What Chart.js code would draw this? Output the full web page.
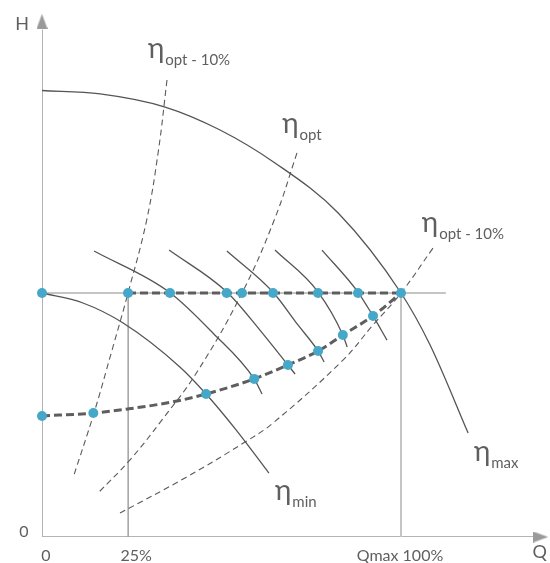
<!DOCTYPE html>
<html lang="en">
<head>
<meta charset="UTF-8">
<title>Pump curves</title>
<script src="https://cdn.jsdelivr.net/npm/chart.js"></script>
<style>
  body { margin: 0; background: #fff; }
  .chart-box { width: 550px; height: 563px; position: relative; }
</style>
</head>
<body>
<div class="chart-box"><canvas id="pumpChart"></canvas></div>
<script>
// Q in % of Qmax, H in % of the head at the working point
const etaMax  = [[0,183],[16.2,181.6],[34.3,176.2],[49.6,166.8],[64.9,153.3],[82.5,132.8],[100,100],[108.1,78.7],[118.7,42.6]];
const etaMin  = [[0,100],[11.4,95.9],[22.6,87.7],[38.4,69.7],[45.7,58.6],[54,44],[63.2,26.2]];
const speed1  = [[14.5,117.2],[35.4,100.4],[47.6,83.6],[59.1,64.8],[61.3,58.6]];
const speed2  = [[35.4,117.6],[51.5,100.4],[60.7,84.8],[68.5,70.5],[70.5,66.8]];
const speed3  = [[51.5,117.2],[64.3,100.4],[71.3,86.9],[76.9,76.2],[78.6,71.7]];
const speed4  = [[64.9,117.6],[76.9,100.4],[83.8,82.8],[85,77.9]];
const speed5  = [[78,117.6],[88,100.4],[92.2,90.6],[96.1,80.7]];

const optMinusLeft  = [[34.82,187.3],[32.45,158.6],[29.16,129.9],[23.96,100],[19.28,75.4],[14.48,50.8],[8.64,24.2]];
const optLine       = [[71.03,157.4],[64.9,130.7],[55.71,100],[43.18,67.6],[33.43,48],[24.51,31.6],[15.6,18]];
const optMinusRight = [[108.9,118.4],[100,100],[92.2,86.9],[83.84,72.5],[64.35,46.7],[56.55,38.9],[39.83,24.2],[21.73,9.8]];

const constHead  = [[23.96,100],[100,100]];
const lowerCurve = [[0,49.6],[14.3,50.8],[24,52.5],[36.5,55.4],[45.7,58.6],[59.1,64.8],[68.5,70.5],[76.9,76.2],[83.8,82.8],[92.2,90.6],[100,100]];

const markPoints = [[0,100],[23.96,100],[35.65,100],[51.45,100],[55.71,100],[64.35,100],[76.88,100],[88.02,100],[100,100],
                    [0,49.6],[14.3,50.8],[45.7,58.6],[59.1,64.8],[68.5,70.5],[76.9,76.2],[83.8,82.8],[92.2,90.6]];

const xTicks = [0, 24, 100];
const xTickLabels = ['0', '25%', 'Qmax 100%'];

const pts = arr => arr.map(([x, y]) => ({x, y}));

function arrowHead() {
    const c = document.createElement('canvas');
    c.width = 11; c.height = 15;
    const g = c.getContext('2d');
    g.fillStyle = '#9a9a9a';
    g.beginPath();
    g.moveTo(5.5, 0); g.lineTo(11, 15); g.lineTo(0, 15);
    g.closePath(); g.fill();
    return c;
}
const arrow = arrowHead();

const FONT = "Lato, 'Open Sans', sans-serif";
const TEXT = '#5f5f5f';

function solid(data) {
    return { data: pts(data), showLine: true, borderColor: '#555', borderWidth: 1.3, pointRadius: 0,
             cubicInterpolationMode: 'monotone', fill: false };
}
function thinDash(data) {
    return { data: pts(data), showLine: true, borderColor: '#5a5a5a', borderWidth: 1.1, borderDash: [6, 4], pointRadius: 0, tension: 0.4 };
}
function guide(data, color, width) {
    return { data: pts(data), showLine: true, borderColor: color, borderWidth: width, pointRadius: 0, tension: 0 };
}

const labelsPlugin = {
    id: 'curveLabels',
    afterDatasetsDraw(chart) {
        const { ctx, scales: { x, y } } = chart;
        ctx.save();
        ctx.fillStyle = TEXT;

        // eta labels: anchor = left edge / baseline of the eta glyph
        const etas = [
            { q: 29.5,  h: 196.3, sub: 'opt - 10%' },
            { q: 66.9,  h: 165.6, sub: 'opt' },
            { q: 105.8, h: 125,   sub: 'opt - 10%' },
            { q: 120.3, h: 31.1,  sub: 'max' },
            { q: 64.9,  h: 15.2,  sub: 'min' }
        ];
        ctx.textBaseline = 'alphabetic';
        ctx.textAlign = 'left';
        etas.forEach(l => {
            const px = x.getPixelForValue(l.q), py = y.getPixelForValue(l.h);
            ctx.font = `28px ${FONT}`;
            ctx.fillText('η', px, py);
            const w = ctx.measureText('η').width;
            ctx.font = `15px ${FONT}`;
            ctx.fillText(l.sub, px + w + 1, py + 7);
        });

        // axis texts
        const x0 = x.getPixelForValue(0), y0 = y.getPixelForValue(0);
        ctx.textAlign = 'center';
        ctx.textBaseline = 'middle';
        ctx.font = `18px ${FONT}`;
        ctx.fillText('H', x0 - 20, y.top + 9);
        ctx.fillText('Q', x.right - 5, y0 + 15);
        ctx.font = `16px ${FONT}`;
        ctx.fillText('0', x0 - 18, y0 - 5);
        const shift = [4, 8, -1];
        xTicks.forEach((t, i) => {
            ctx.fillText(xTickLabels[i], x.getPixelForValue(t) + shift[i], y0 + 19);
        });
        ctx.restore();
    }
};

new Chart(document.getElementById('pumpChart'), {
    type: 'scatter',
    data: {
        datasets: [
            { data: pts(markPoints), pointRadius: 5, pointBackgroundColor: '#46a8c9', pointBorderWidth: 0, showLine: false, clip: false },
            { data: [{x: 0, y: 211.3}], pointStyle: arrow, pointRotation: 0, showLine: false, clip: false },
            { data: [{x: 138.9, y: 0}], pointStyle: arrow, pointRotation: 90, showLine: false, clip: false },
            { data: pts(constHead), showLine: true, borderColor: '#5e5e5e', borderWidth: 3, borderDash: [8, 4], pointRadius: 0 },
            { data: pts(lowerCurve), showLine: true, borderColor: '#5e5e5e', borderWidth: 3, borderDash: [8, 4], pointRadius: 0,
              cubicInterpolationMode: 'monotone' },
            solid(etaMax), solid(etaMin), solid(speed1), solid(speed2), solid(speed3), solid(speed4), solid(speed5),
            thinDash(optMinusLeft), thinDash(optLine), thinDash(optMinusRight),
            guide([[0,100],[112.5,100]], '#8a8a8a', 1),
            guide([[24,0],[24,100]], '#a0a0a0', 1.5),
            guide([[100,0],[100,100]], '#c4c4c4', 2),
            guide([[0,0],[137,0]], '#b4b4b4', 2),
            guide([[0,0],[0,208]], '#9a9a9a', 1.5)
        ]
    },
    options: {
        responsive: true,
        maintainAspectRatio: false,
        animation: false,
        layout: { padding: { left: 42, right: 5.4, top: 14.84, bottom: 26 } },
        plugins: { legend: { display: false }, tooltip: { enabled: false } },
        scales: {
            x: { type: 'linear', min: 0, max: 140, display: false },
            y: { type: 'linear', min: 0, max: 214, display: false }
        }
    },
    plugins: [labelsPlugin]
});
</script>
</body>
</html>
